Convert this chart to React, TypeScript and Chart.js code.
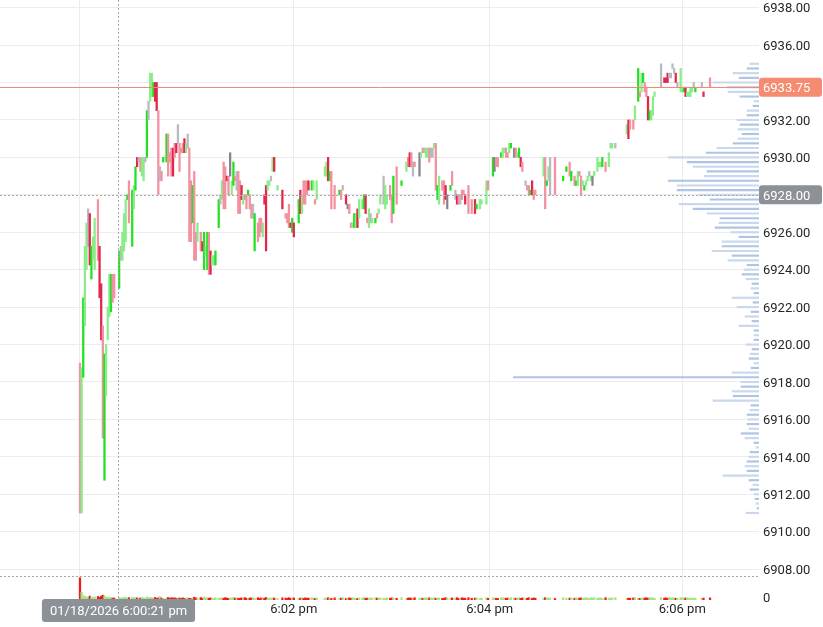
import React, { useEffect, useRef } from 'react';
import { Chart, registerables } from 'chart.js';

Chart.register(...registerables);

// ---------- axes / ticks ----------
const priceTicks = [6908, 6910, 6912, 6914, 6916, 6918, 6920, 6922, 6924, 6926, 6928, 6930, 6932, 6934, 6936, 6938];
const timeTickSlots = [-11, 120, 240, 358];
const timeTickLabels = ['6:00 pm', '6:02 pm', '6:04 pm', '6:06 pm'];
const SLOT_MIN = -60;
const SLOT_MAX = 405;
const PRICE_MIN = 6906.35;
const PRICE_MAX = 6938.41;
const VOL_MAX = 3100;
const VOL_PANE_TOP = 124;
const PROFILE_MAX = 760;

const lastPrice = 6933.75;
const crossPrice = 6928.0;
const crossSlot = 12;
const crossLabel = '01/18/2026 6:00:21 pm';

// ---------- 1-second price bars ----------
const barSlots = [
  -11, -10, -9, -8, -7, -6, -5, -4, -3, -2,
  0, 1, 2, 3, 4, 5, 6, 7, 8, 9,
  10, 13, 14, 15, 16, 17, 18, 19, 21, 22,
  23, 24, 25, 26, 27, 28, 29, 30, 31, 32,
  33, 34, 35, 36, 37, 38, 39, 40, 42, 43,
  44, 45, 46, 47, 48, 49, 50, 51, 52, 53,
  54, 55, 56, 57, 58, 59, 60, 61, 63, 64,
  65, 66, 67, 68, 69, 70, 71, 72, 74, 75,
  76, 77, 78, 79, 80, 81, 82, 83, 84, 85,
  86, 87, 88, 89, 90, 91, 92, 93, 94, 95,
  96, 98, 99, 100, 101, 102, 103, 104, 105, 106,
  107, 108, 110, 113, 115, 116, 117, 118, 119, 120,
  123, 124, 125, 126, 127, 128, 129, 131, 132, 133,
  134, 139, 140, 141, 142, 143, 145, 148, 149, 150,
  152, 153, 154, 155, 156, 157, 158, 159, 160, 162,
  163, 164, 165, 166, 167, 168, 170, 171, 172, 173,
  175, 176, 177, 179, 180, 181, 183, 186, 189, 190,
  191, 192, 193, 194, 197, 198, 199, 200, 201, 202,
  203, 204, 205, 206, 207, 208, 209, 211, 212, 213,
  214, 216, 217, 219, 220, 221, 222, 223, 224, 225,
  227, 229, 231, 232, 234, 235, 238, 239, 242, 243,
  244, 245, 247, 248, 249, 250, 251, 252, 253, 255,
  256, 257, 258, 259, 260, 262, 263, 264, 265, 266,
  267, 268, 273, 274, 275, 276, 277, 280, 285, 287,
  289, 290, 292, 293, 294, 295, 296, 297, 298, 299,
  300, 301, 302, 303, 304, 306, 307, 308, 309, 311,
  313, 314, 315, 317, 324, 325, 326, 328, 329, 331,
  332, 333, 334, 335, 336, 337, 338, 339, 340, 341,
  345, 347, 348, 349, 350, 351, 352, 353, 354, 355,
  357, 358, 359, 360, 361, 362, 363, 364, 365, 366,
  370, 371, 375,
];

const barLows = [
  6911, 6911, 6918.25, 6921, 6924, 6925.25, 6924.25, 6923.5, 6924.5, 6924,
  6924.5, 6922.5, 6920.25, 6915, 6912.75, 6917.25, 6920.25, 6921.5, 6921.75, 6922.25,
  6922.5, 6923, 6924.5, 6924.5, 6925, 6925.5, 6927.75, 6926.5, 6925.25, 6927.25,
  6928.25, 6929.5, 6929.75, 6929.25, 6929, 6928.75, 6929.75, 6930, 6932, 6933,
  6933.25, 6933.25, 6933, 6932.5, 6928, 6928.75, 6928.75, 6929.75, 6929.75, 6929,
  6929.75, 6929, 6929, 6930, 6930.25, 6930.75, 6929.25, 6930.25, 6930.25, 6930.25,
  6930.25, 6930.5, 6925.5, 6925.5, 6926.5, 6924.5, 6924.5, 6925.5, 6925, 6925,
  6924, 6924.75, 6924, 6923.75, 6923.75, 6924.25, 6924.25, 6924.25, 6926.25, 6927.5,
  6927.75, 6927.25, 6927.25, 6928.75, 6928, 6929, 6928, 6928.5, 6928.75, 6928.25,
  6927, 6927, 6927.75, 6927.5, 6927.75, 6927.25, 6928, 6927.25, 6926.75, 6926.75,
  6925, 6925.5, 6925.75, 6926, 6925.75, 6927.5, 6925, 6928.25, 6928.5, 6928.75,
  6929.25, 6929.25, 6928.25, 6927.25, 6926.75, 6926.5, 6926.25, 6926.25, 6926, 6925.75,
  6926.5, 6927, 6927, 6927.5, 6927.5, 6928, 6928.25, 6928.25, 6928.25, 6927.5,
  6927.75, 6929, 6929, 6928.75, 6928.75, 6927.25, 6927.25, 6928, 6927.75, 6928.25,
  6927.5, 6927.25, 6927, 6926.25, 6926.25, 6926.25, 6926.25, 6926.25, 6926.75, 6927.25,
  6927.25, 6927, 6926.5, 6926.25, 6926.5, 6926.5, 6926.5, 6926.75, 6927, 6927.5,
  6927.5, 6927.25, 6927.5, 6927.75, 6926.5, 6927, 6927.5, 6928.5, 6929.25, 6929.5,
  6929.5, 6929.5, 6929, 6929.5, 6929, 6930, 6930.25, 6930.25, 6930, 6930,
  6929.75, 6930, 6930, 6930.5, 6928.25, 6927.75, 6927.5, 6928.25, 6927.5, 6927.75,
  6927.25, 6928.25, 6928.5, 6927.75, 6927.5, 6927.5, 6927.5, 6927.75, 6928, 6927.5,
  6927, 6927, 6927, 6927.25, 6927.25, 6927.5, 6927.5, 6928.25, 6929, 6929.25,
  6929.5, 6929.5, 6930, 6930, 6930.25, 6930, 6930, 6930.25, 6930.5, 6930,
  6930, 6930, 6930, 6929.5, 6929.25, 6928.5, 6928.25, 6928, 6928, 6928,
  6927.75, 6928, 6929, 6927.25, 6928.5, 6928.75, 6928, 6928, 6928.75, 6929.25,
  6929, 6928.75, 6928.5, 6928.5, 6928.5, 6929, 6928, 6928.5, 6928.25, 6928.5,
  6928.75, 6929, 6928.75, 6928.5, 6929, 6929.25, 6929.5, 6929.5, 6929.5, 6929.25,
  6929.5, 6930.5, 6930.5, 6930.5, 6931.25, 6931, 6931.5, 6931.5, 6932, 6933,
  6933.25, 6933.5, 6934, 6933.5, 6933.25, 6932, 6932, 6932, 6932.25, 6933.25,
  6933.75, 6934, 6934, 6934, 6934.25, 6934.25, 6934.75, 6934.5, 6934, 6933.75,
  6933.5, 6933.5, 6933.5, 6933.25, 6933.25, 6933.25, 6933.25, 6933.5, 6933.75, 6933.5,
  6933.75, 6933.25, 6933.75,
];

const barHighs = [
  6919, 6918.75, 6922.5, 6925.25, 6926.5, 6927.25, 6927, 6925.25, 6925.75, 6926.75,
  6927.75, 6925.25, 6923.25, 6921, 6919.5, 6920, 6922, 6923.75, 6923.75, 6923.75,
  6923.75, 6925, 6925.25, 6926, 6927, 6927.75, 6928, 6928.75, 6928.25, 6928.5,
  6929.5, 6930, 6930, 6930, 6930, 6930, 6930, 6932.5, 6933, 6934.5,
  6934.5, 6934, 6934, 6934, 6932.5, 6929.5, 6929.25, 6930, 6931.25, 6931.25,
  6930.25, 6930.5, 6930.5, 6930.75, 6930.75, 6931.75, 6930.75, 6930.5, 6930.75, 6931,
  6930.75, 6931.25, 6930.5, 6928.75, 6928.5, 6929.25, 6926, 6926.5, 6926, 6925.5,
  6926, 6925.25, 6926, 6926, 6925, 6924.75, 6924.75, 6925, 6927.75, 6928,
  6928.75, 6929.75, 6929.5, 6929, 6929, 6930.25, 6928.75, 6929.75, 6929, 6929.25,
  6929.25, 6928.75, 6928.5, 6928, 6928, 6928, 6928.25, 6928, 6927.5, 6927.5,
  6927, 6926.5, 6926.75, 6926.75, 6926.5, 6928, 6928.5, 6928.75, 6928.75, 6929,
  6930, 6930, 6928.5, 6928.25, 6927, 6927, 6927.5, 6926.5, 6926.75, 6926.5,
  6927.75, 6928.25, 6928, 6928.75, 6928.75, 6928.75, 6928.75, 6928.75, 6928.75, 6927.75,
  6928.75, 6929.5, 6929.75, 6930, 6929.25, 6929.25, 6928.5, 6928.25, 6928.25, 6928.5,
  6928, 6927.5, 6927.5, 6926.5, 6926.5, 6927, 6927, 6927.25, 6927.75, 6927.75,
  6928, 6928, 6926.75, 6927.25, 6927, 6926.75, 6926.75, 6927, 6927.25, 6928,
  6929, 6928.5, 6928, 6928.5, 6928, 6929, 6929.5, 6928.75, 6929.75, 6930,
  6930.25, 6930.25, 6929.75, 6929.75, 6930.25, 6930.25, 6930.5, 6930.5, 6930.5, 6930.5,
  6930.5, 6930.5, 6930.5, 6930.75, 6930.75, 6928.5, 6929, 6928.75, 6928.75, 6928.5,
  6928, 6928.5, 6929.25, 6928.25, 6928, 6928, 6928, 6928.25, 6928.25, 6928,
  6928.5, 6927.75, 6927.75, 6927.5, 6927.75, 6927.75, 6928.75, 6928.75, 6930, 6930,
  6930, 6930, 6930.25, 6930.5, 6930.5, 6930.5, 6930.25, 6930.75, 6930.75, 6930.5,
  6930.5, 6930.25, 6930.5, 6930, 6929.75, 6928.75, 6928.5, 6928.5, 6928.25, 6928.75,
  6928.25, 6928.25, 6930, 6930, 6928.75, 6929.5, 6930, 6930, 6929, 6929.5,
  6929.75, 6929.25, 6929, 6928.75, 6929.25, 6929.25, 6929, 6928.75, 6928.5, 6928.75,
  6929, 6929.25, 6929, 6929, 6929.25, 6930, 6929.75, 6929.75, 6930, 6929.75,
  6930.25, 6930.75, 6930.75, 6930.75, 6931.75, 6932, 6932, 6932, 6932.75, 6934.75,
  6933.5, 6934.5, 6934.5, 6934, 6933.75, 6933.25, 6932.5, 6932.5, 6933.25, 6933.5,
  6935, 6934.25, 6934.25, 6934.5, 6934.5, 6934.5, 6935, 6934.75, 6934.5, 6934,
  6934.75, 6933.75, 6933.75, 6933.75, 6933.5, 6933.5, 6933.75, 6933.75, 6934, 6933.75,
  6934, 6933.5, 6934.25,
];

// G = up (strong), g = up, R = down (strong), r = down, k/K = unchanged
const barKinds = [
  'rgGggkRGgg', 'rRRrGgggGr', 'rGkgggGrGg', 'GRkrggkGkg', 'gGRRrkrGGr',
  'rrRrRkrrrR', 'gkrrGrrgrR', 'GgGrRggGGk', 'grrRrKgGrk', 'rrRgrrGrrk',
  'GrrrgRRggk', 'gRgRrrrRGR', 'GRgrrrRGgr', 'gggRGrrGrk', 'RKrrgGgRgg',
  'GRrgkgGrgg', 'kggrrGrGgr', 'RrkrKgrkgg', 'rkkgrGgrrR', 'KGrkRrkrrR',
  'rrRGgggrGK', 'rrGggrrgGK', 'rgGRrkrrGR', 'rrgrGgkrGG', 'rGrGgrrgGg',
  'gkgKggggGr', 'gggkgRrrgG', 'rgGrrRGggg', 'kRRRkkkkRk', 'ggGRggggkG',
  'kRr',
].join('');

const barVolumes = [
  115, 40, 22, 18, 16, 14, 20, 15, 12, 16, 18, 14, 20, 25, 22, 14, 12, 15, 11, 10,
  10, 14, 9, 12, 13, 15, 8, 12, 14, 10, 13, 11, 9, 10, 12, 12, 9, 16, 11, 14,
  12, 10, 13, 9, 11, 18, 10, 9, 11, 13, 8, 12, 10, 11, 9, 12, 10, 8, 11, 9,
  10, 12, 9, 8, 10, 14, 11, 9, 13, 8, 15, 10, 12, 9, 11, 10, 8, 12, 9, 10,
  11, 9, 12, 10, 8, 11, 9, 13, 10, 12, 8, 9, 11, 10, 12, 9, 8, 10, 11, 9,
  10, 12, 8, 11, 9, 10, 13, 9, 11, 8, 12, 10, 9, 11, 10, 8, 12, 9, 10, 11,
  9, 10, 12, 8, 11, 9, 10, 12, 9, 8, 11, 10, 9, 12, 10, 8, 11, 9, 10, 12,
  8, 10, 11, 9, 12, 10, 9, 8, 11, 10, 12, 9, 10, 8, 11, 9, 12, 10, 9, 11,
  10, 8, 12, 9, 11, 10, 9, 12, 8, 10, 11, 9, 10, 12, 8, 11, 9, 10, 12, 9,
  11, 10, 8, 12, 9, 10, 11, 9, 8, 12, 10, 9, 11, 10, 12, 8, 9, 11, 10, 9,
  12, 9, 10, 11, 8, 10, 12, 9, 11, 10, 9, 8, 12, 10, 11, 9, 10, 8, 12, 11,
  9, 10, 12, 8, 11, 10, 9, 12, 10, 8, 11, 9, 10, 12, 9, 11, 10, 8, 12, 9,
  10, 11, 9, 12, 8, 10, 11, 9, 10, 12, 9, 8, 11, 10, 12, 9, 10, 11, 8, 12,
  9, 10, 11, 12, 8, 10, 9, 11, 12, 10, 9, 8, 11, 10, 12, 9, 13, 10, 11, 9,
  12, 10, 11, 9, 14, 10, 12, 11, 9, 10, 13, 9, 11, 10, 12, 9, 10, 8, 11, 10,
  9, 10, 11,
];

// ---------- volume profile (right side) ----------
const profilePrices = [
  6935, 6934.75, 6934.5, 6934.25, 6934, 6933.75, 6933.5, 6933.25, 6933, 6932.75,
  6932.5, 6932.25, 6932, 6931.75, 6931.5, 6931.25, 6931, 6930.75, 6930.5, 6930.25,
  6930, 6929.75, 6929.5, 6929.25, 6929, 6928.75, 6928.5, 6928.25, 6928, 6927.75,
  6927.5, 6927.25, 6927, 6926.75, 6926.5, 6926.25, 6926, 6925.75, 6925.5, 6925.25,
  6925, 6924.75, 6924.5, 6924.25, 6924, 6923.75, 6923.5, 6923.25, 6923, 6922.75,
  6922.5, 6922.25, 6922, 6921.75, 6921.5, 6921.25, 6921, 6920.75, 6920.5, 6920.25,
  6920, 6919.75, 6919.5, 6919.25, 6919, 6918.75, 6918.5, 6918.25, 6918, 6917.75,
  6917.5, 6917.25, 6917, 6916.75, 6916.5, 6916.25, 6916, 6915.75, 6915.5, 6915.25,
  6915, 6914.75, 6914.5, 6914.25, 6914, 6913.75, 6913.5, 6913.25, 6913, 6912.75,
  6912.5, 6912.25, 6912, 6911.75, 6911.5, 6911.25, 6911,
];
const profileVolumes = [
  9, 12, 26, 20, 46, 32, 31, 19, 5, 6,
  12, 12, 22, 19, 21, 17, 21, 26, 42, 53,
  91, 72, 66, 52, 55, 91, 82, 82, 60, 49,
  80, 66, 52, 39, 40, 44, 28, 20, 37, 37,
  47, 27, 31, 12, 15, 17, 13, 7, 8, 5,
  27, 6, 22, 8, 14, 7, 20, 5, 5, 5,
  13, 7, 9, 10, 5, 8, 27, 246, 18, 18,
  27, 26, 46, 8, 9, 12, 11, 12, 10, 18,
  14, 5, 3, 9, 10, 12, 14, 12, 36, 10,
  6, 9, 5, 4, 3, 2, 13,
];

const KIND_COLORS: Record<string, string> = {
  G: '#22e022',
  g: '#88ee88',
  R: '#e2264c',
  r: '#f2919f',
  k: '#b9b9bf',
  K: '#85858d',
};
const VOL_UP = '#abe283';
const VOL_DOWN = '#f21a1a';
const FONT = 'Roboto';
const TEXT_COLOR = '#262626';

const overlayPlugin = {
  id: 'overlay',
  afterDraw(chart: any) {
    const { ctx, chartArea: a, scales } = chart;
    const xs = scales.x;
    const ys = scales.y;
    const yv = scales.yv;
    const line = (x1: number, y1: number, x2: number, y2: number) => {
      ctx.beginPath();
      ctx.moveTo(x1, y1);
      ctx.lineTo(x2, y2);
      ctx.stroke();
    };
    ctx.save();
    ctx.lineWidth = 1;
    // volume pane separator + crosshair
    ctx.strokeStyle = '#a8a8a8';
    ctx.setLineDash([2, 2]);
    const sepY = Math.round(yv.getPixelForValue(VOL_PANE_TOP)) + 0.5;
    line(a.left, sepY, a.right, sepY);
    const cy = Math.round(ys.getPixelForValue(crossPrice)) + 0.5;
    line(a.left, cy, a.right, cy);
    const cx = Math.round(xs.getPixelForValue(crossSlot)) + 0.5;
    line(cx, a.top, cx, a.bottom);
    // last price line
    ctx.setLineDash([]);
    ctx.strokeStyle = '#f08b70';
    const ly = Math.round(ys.getPixelForValue(lastPrice)) + 0.5;
    line(a.left, ly, a.right, ly);

    ctx.font = `13px ${FONT}`;
    ctx.textBaseline = 'middle';
    ctx.textAlign = 'left';
    // volume zero label
    ctx.fillStyle = TEXT_COLOR;
    ctx.fillText('0', a.right + 4, yv.getPixelForValue(0) - 1);

    const priceBox = (price: number, fill: string) => {
      const py = ys.getPixelForValue(price);
      ctx.fillStyle = fill;
      ctx.beginPath();
      ctx.roundRect(a.right, py - 9.5, chart.width - a.right - 1, 19, 3);
      ctx.fill();
      ctx.fillStyle = '#ffffff';
      ctx.fillText(price.toFixed(2), a.right + 4, py + 2);
    };
    priceBox(lastPrice, '#f58b70');
    priceBox(crossPrice, '#8c9197');

    // crosshair time label
    const tw = ctx.measureText(crossLabel).width;
    const bw = tw + 16;
    ctx.fillStyle = '#8c9197';
    ctx.beginPath();
    ctx.roundRect(cx - bw / 2, a.bottom - 1, bw, 23, 3);
    ctx.fill();
    ctx.fillStyle = '#ffffff';
    ctx.textAlign = 'center';
    ctx.fillText(crossLabel, cx, a.bottom + 12);
    ctx.restore();
  },
};

export default function App() {
  const canvasRef = useRef<HTMLCanvasElement | null>(null);

  useEffect(() => {
    const canvas = canvasRef.current;
    if (!canvas) return;
    Chart.defaults.font.family = FONT;
    Chart.defaults.font.size = 13;
    Chart.defaults.color = TEXT_COLOR;

    const barColors = barSlots.map((_, i) => KIND_COLORS[barKinds[i]] || '#b9b9bf');
    const volColors = barSlots.map((_, i) => {
      const k = barKinds[i];
      return k === 'R' || k === 'r' ? VOL_DOWN : VOL_UP;
    });
    const profileColors = profilePrices.map((_, i) => (i % 2 === 0 ? '#c9d8ec' : '#aec4e3'));

    const chart = new Chart(canvas, {
      type: 'bar',
      data: {
        datasets: [
          {
            type: 'bar',
            label: 'price',
            data: barSlots.map((s, i) => ({ x: s, y: [barLows[i], barHighs[i]] })) as any,
            backgroundColor: barColors,
            barThickness: 1.6,
            grouped: false,
            xAxisID: 'x',
            yAxisID: 'y',
            order: 1,
          } as any,
          {
            type: 'bar',
            label: 'volume',
            data: barSlots.map((s, i) => ({ x: s, y: barVolumes[i] })) as any,
            backgroundColor: volColors,
            barThickness: 1.6,
            grouped: false,
            xAxisID: 'x',
            yAxisID: 'yv',
            order: 2,
          } as any,
          {
            type: 'bar',
            label: 'profile',
            indexAxis: 'y',
            data: profilePrices.map((p, i) => ({ x: profileVolumes[i], y: p })) as any,
            backgroundColor: profileColors,
            barThickness: 1.5,
            grouped: false,
            xAxisID: 'xp',
            yAxisID: 'y',
            order: 3,
          } as any,
        ],
      },
      options: {
        responsive: false,
        animation: false,
        devicePixelRatio: 1,
        events: [],
        layout: { padding: 0 },
        plugins: { legend: { display: false }, tooltip: { enabled: false } },
        scales: {
          x: {
            type: 'linear',
            position: 'bottom',
            min: SLOT_MIN,
            max: SLOT_MAX,
            offset: false,
            grid: { color: '#ececec', drawTicks: false, offset: false },
            border: { display: false },
            afterBuildTicks: (axis: any) => {
              axis.ticks = timeTickSlots.map((v) => ({ value: v }));
            },
            ticks: {
              autoSkip: false,
              maxRotation: 0,
              padding: 2,
              color: TEXT_COLOR,
              font: { size: 13 },
              callback: (v: any) => {
                const i = timeTickSlots.indexOf(Number(v));
                return i >= 0 ? timeTickLabels[i] : '';
              },
            },
            afterFit: (s: any) => {
              s.height = 27;
              s.paddingLeft = 0;
              s.paddingRight = 0;
            },
          },
          xp: {
            type: 'linear',
            display: false,
            reverse: true,
            min: 0,
            max: PROFILE_MAX,
            offset: false,
            grid: { offset: false },
          },
          y: {
            type: 'linear',
            position: 'right',
            min: PRICE_MIN,
            max: PRICE_MAX,
            offset: false,
            grid: { color: '#ececec', drawTicks: false, offset: false },
            border: { display: false },
            afterBuildTicks: (axis: any) => {
              axis.ticks = priceTicks.map((v) => ({ value: v }));
            },
            ticks: {
              padding: 4,
              labelOffset: 1.5,
              color: TEXT_COLOR,
              font: { size: 13 },
              callback: (v: any) => Number(v).toFixed(2),
            },
            afterFit: (s: any) => {
              s.width = 64;
              s.paddingTop = 0;
              s.paddingBottom = 0;
            },
          },
          yv: {
            type: 'linear',
            display: false,
            position: 'right',
            min: 0,
            max: VOL_MAX,
          },
        } as any,
      },
      plugins: [overlayPlugin],
    });

    return () => chart.destroy();
  }, []);

  return (
    <div style={{ position: 'fixed', left: 0, top: 0, width: 823, height: 627, background: '#ffffff' }}>
      <canvas ref={canvasRef} width={823} height={627} style={{ display: 'block' }} />
    </div>
  );
}
